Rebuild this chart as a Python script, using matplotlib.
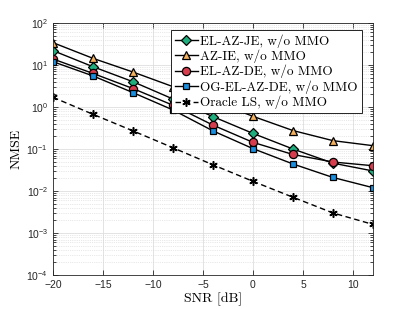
import matplotlib
matplotlib.use("Agg")
import matplotlib.pyplot as plt
import numpy as np

plt.rcParams['mathtext.fontset'] = 'custom'
plt.rcParams['mathtext.rm'] = 'Liberation Sans'
plt.rcParams['mathtext.it'] = 'Liberation Sans:italic'
plt.rcParams['font.family'] = 'Liberation Sans'

snr = [-20, -16, -12, -8, -4, 0, 4, 8, 12]

el_az_je = [22, 9.1, 4.0, 1.55, 0.59, 0.235, 0.10, 0.046, 0.030]
az_ie = [34, 14.4, 6.8, 3.05, 1.4, 0.60, 0.275, 0.158, 0.12]
el_az_de = [13.9, 6.3, 2.75, 1.1, 0.37, 0.144, 0.074, 0.049, 0.040]
og_el_az_de = [12, 5.5, 2.2, 0.85, 0.27, 0.102, 0.044, 0.021, 0.012]
oracle_ls = [1.7, 0.67, 0.27, 0.107, 0.042, 0.017, 0.0071, 0.003, 0.0016]

labels = ["EL-AZ-JE, w/o MMO", "AZ-IE, w/o MMO", "EL-AZ-DE, w/o MMO",
          "OG-EL-AZ-DE, w/o MMO", "Oracle LS, w/o MMO"]

fig = plt.figure(figsize=(4.12, 3.09), dpi=100)
ax = fig.add_axes([0.1286, 0.110, 0.7767, 0.8156])

ax.plot(snr, el_az_je, '-kD', mfc='#1fae7e', mec='k', ms=5.1, mew=0.9, lw=1, label=labels[0])
ax.plot(snr, az_ie, '-k^', mfc='#f3b15e', mec='k', ms=6.4, mew=0.9, lw=1, label=labels[1])
ax.plot(snr, el_az_de, '-ko', mfc='#d63c4c', mec='k', ms=5.9, mew=0.9, lw=1, label=labels[2])
ax.plot(snr, og_el_az_de, '-ks', mfc='#1a8fe0', mec='k', ms=5.0, mew=0.9, lw=1, label=labels[3])
ax.plot(snr, oracle_ls, '--k', marker=(6, 2, 0), mec='k', ms=6, mew=1.1, lw=1,
        dashes=(4, 2.5), label=labels[4])

ax.set_yscale('log')
ax.set_xlim(-20, 12)
ax.set_ylim(1e-4, 1e2)
ax.set_xticks([-20, -15, -10, -5, 0, 5, 10])
ax.set_yticks([1e-4, 1e-3, 1e-2, 1e-1, 1e0, 1e1, 1e2])
ax.tick_params(which='both', direction='in', top=True, right=True, labelsize=7.5,
               colors='#262626', width=0.6)
ax.tick_params(which='major', length=3.5)
ax.tick_params(which='minor', length=2)
ax.grid(which='major', color='#dedede', lw=0.6)
ax.grid(which='minor', axis='y', color='#d3d3d3', lw=0.5, ls=':')
for s in ax.spines.values():
    s.set_linewidth(0.6)
    s.set_color('#262626')

ax.set_xlabel("SNR [dB]", family='cmr10', fontsize=10, labelpad=2)
ax.set_ylabel("NMSE", family='cmr10', fontsize=10, labelpad=3)

leg = ax.legend(loc='upper right', bbox_to_anchor=(0.965, 0.972), fancybox=False,
                framealpha=1, edgecolor='k', prop={'family': 'cmr10', 'size': 9.5},
                handlelength=1.75, handletextpad=0.2, borderpad=0.3, labelspacing=0.15,
                borderaxespad=0)
leg.get_frame().set_linewidth(0.6)

fig.savefig("out.png", dpi=100)
